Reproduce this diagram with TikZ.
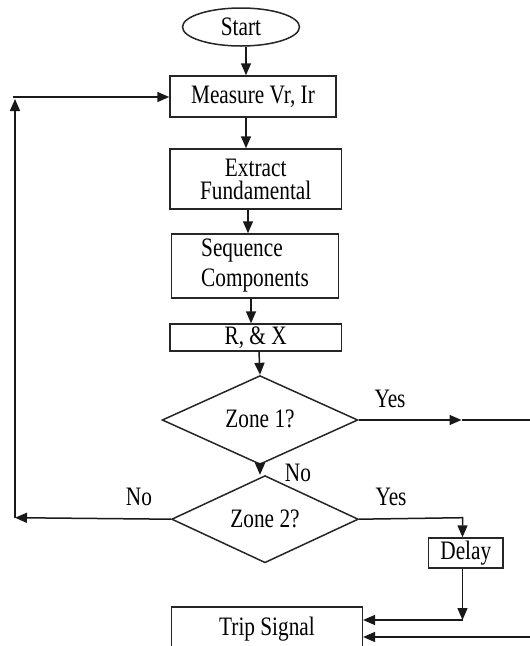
\documentclass[tikz,border=0pt]{standalone}
\usepackage{fontspec}
\usepackage{graphicx}
\setmainfont{Liberation Serif}
\usetikzlibrary{arrows.meta,shapes.geometric}
\newcommand\fs{\fontsize{21.3}{18.4}\selectfont}
\newcommand\vs[1]{\scalebox{1}[1.25]{#1}}
\newcommand\twoc[3]{\vs{\vbox{\baselineskip=#3\lineskiplimit=-20pt\halign{\hfil##\hfil\cr#1\cr#2\cr}}}}
\newcommand\twol[3]{\vs{\vbox{\baselineskip=#3\lineskiplimit=-20pt\halign{##\hfil\cr#1\cr#2\cr}}}}
\tikzset{
  base/.style={draw=black!85, line width=1.5pt, inner sep=0pt, font=\fs, text=black},
  boxnode/.style={base, rectangle},
  oval/.style={base, ellipse},
  decision/.style={base, diamond},
  lbl/.style={font=\fs, inner sep=0pt},
  line/.style={line width=1.5pt, draw=black!90},
  arr/.style={line, -{Triangle[length=12pt,width=10pt]}},
}
\begin{document}
\begin{tikzpicture}[x=1pt,y=-1pt]
\useasboundingbox (0,0) rectangle (530,646);
\fill[white] (0,0) rectangle (530,646);
% columns
\coordinate (c1) at (246,0);
\coordinate (c2) at (248,0);
\coordinate (c3) at (251,0);
\coordinate (c4) at (259,0);
\coordinate (cr) at (462.5,0);
% nodes
\node[oval, minimum width=117, minimum height=38] (start) at (241,27) {\vs{Start}};
\node[boxnode, minimum width=166, minimum height=41] (measure) at (253,96.5) {\vs{Measure Vr, Ir}};
\node[boxnode, minimum width=171.5, minimum height=60] (extract) at (255.7,179) {\twoc{Extract}{Fundamental}{18.4pt}};
\node[boxnode, minimum width=166.7, minimum height=64] (sequence) at (255,266) {\twol{Sequence}{Components}{24pt}};
\node[boxnode, minimum width=171.5, minimum height=26.7] (rx) at (255.7,337.4) {\vs{R, \& X}};
\node[decision, minimum width=195.7, minimum height=66] (z1) at (260,420) {\raisebox{2pt}{\vs{Zone 1?}}};
\node[decision, minimum width=186.7, minimum height=67] (z2) at (265,519.2) {\vs{Zone 2?}};
\node[boxnode, minimum width=74.3, minimum height=30] (delay) at (465.8,553) {\vs{Delay}};
\node[boxnode, minimum width=190.7, minimum height=44] (trip) at (267,629) {\raisebox{2pt}{\vs{Trip Signal}}};
% free ends
\coordinate (y1mid) at (461.5,420);
\coordinate (y1end) at (530,420);
\coordinate (bin) at (530,637);
\coordinate (noL) at (15,517.7);
\coordinate (up) at (15,99);
\coordinate (lstart) at (13,97);
\coordinate (dcorner) at (462.5,620);
\coordinate (ycorner) at (462.5,517.7);
% connectors
\draw[arr] (start.south -| c1) -- (measure.north -| c1);
\draw[arr] (measure.south -| c1) -- (extract.north -| c1);
\draw[arr] (extract.south -| c2) -- (sequence.north -| c2);
\draw[arr] (sequence.south -| c3) -- (rx.north -| c3);
\draw[arr] (rx.south -| c4) -- (z1.north);
\draw[arr] (z1.south) -- (z1.south |- z2.north);
\draw[arr] (z1.east) -- (y1mid);
\draw[line] (y1mid) -- (y1end);
\draw[arr] (z2.east) -- (ycorner) -- (delay.north -| cr);
\draw[arr] (delay.south -| cr) -- (dcorner);
\draw[arr] (dcorner) -- (dcorner -| trip.east);
\draw[arr] (bin) -- (bin -| trip.east);
\draw[arr] (z2.west) -- (noL);
\draw[arr] (noL) -- (up);
\draw[arr] (lstart) -- (lstart -| measure.west);
% labels
\node[lbl] (yes1) at (390,399) {\vs{Yes}};
\node[lbl] (no1) at (298,472.7) {\vs{No}};
\node[lbl] (no2) at (139,496.7) {\vs{No}};
\node[lbl] (yes2) at (391,496.7) {\vs{Yes}};
\end{tikzpicture}
\end{document}
